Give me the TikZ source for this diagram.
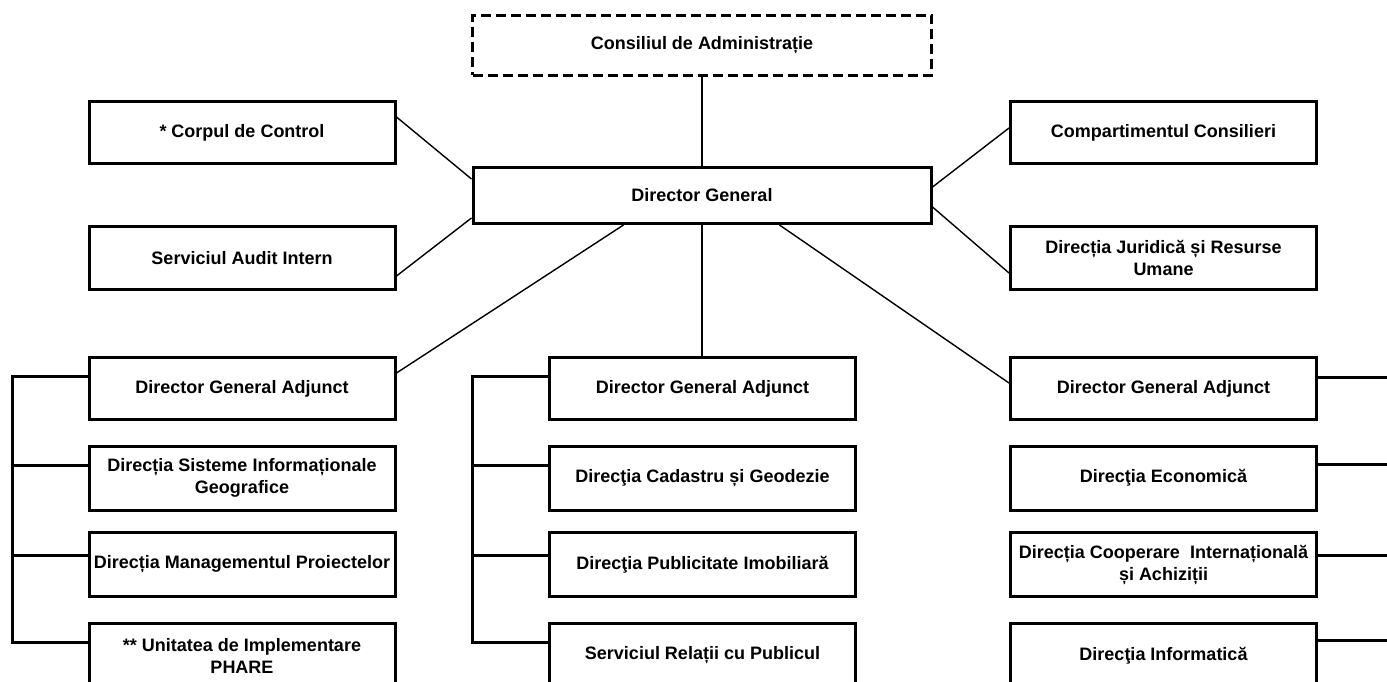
\documentclass[tikz,border=0pt]{standalone}
\usepackage{fontspec}
\setmainfont{Liberation Sans}
\usetikzlibrary{calc}
\begin{document}
\begin{tikzpicture}[x=1pt,y=-1pt,
  box/.style={draw,line width=3pt,inner sep=0pt,align=center,
    font=\fontsize{18}{22}\selectfont\bfseries,minimum width=306pt,minimum height=62pt},
  tall/.style={minimum height=64pt},
  conn/.style={line width=1.4pt},
  brk/.style={line width=3pt,line join=miter}]
\useasboundingbox (0,0) rectangle (1387,682);
\clip (0,0) rectangle (1387,682);
% top
\node[box,dash pattern=on 10pt off 5pt,minimum width=459pt,minimum height=60pt] (ca) at (702,45.5) {Consiliul de Administrație};
\node[box,minimum width=458pt,minimum height=56pt] (dg) at (702,195.5) {Director General};
\node[box] (corp) at (242,132.5) {* Corpul de Control};
\node[box,minimum height=63pt] (audit) at (242,258) {Serviciul Audit Intern};
\node[box] (comp) at (1163.5,132.5) {Compartimentul Consilieri};
\node[box,minimum height=63pt] (jur) at (1163.5,258) {Direcția Juridică și Resurse\\Umane};
% left column
\node[box] (l1) at (242,388.5) {Director General Adjunct};
\node[box,tall] (l2) at (242,478) {Direcția Sisteme Informaționale\\Geografice};
\node[box,tall] (l3) at (242,564.5) {Direcția Managementul Proiectelor};
\node[box,tall] (l4) at (242,655.5) {** Unitatea de Implementare\\PHARE};
% middle column
\node[box] (m1) at (702.5,388.5) {Director General Adjunct};
\node[box,tall] (m2) at (702.5,478) {Direcţia Cadastru și Geodezie};
\node[box,tall] (m3) at (702.5,564.5) {Direcţia Publicitate Imobiliară};
\node[box,tall] (m4) at (702.5,655.5) {Serviciul Relații cu Publicul};
% right column
\node[box] (r1) at (1163.5,388.5) {Director General Adjunct};
\node[box,tall] (r2) at (1163.5,478) {Direcţia Economică};
\node[box,tall] (r3) at (1163.5,564.5) {Direcția Cooperare~ Internațională\\și Achiziții};
\node[box,tall] (r4) at (1163.5,655.5) {Direcţia Informatică};
% connectors from top
\draw[conn] (ca.south) -- (ca.south |- dg.north);
\draw[conn] ($(dg.north west)+(0,13)$) -- ($(corp.north east)+(0,17)$);
\draw[conn] ($(dg.south west)+(0,-7)$) -- ($(audit.south east)+(0,-15)$);
\draw[conn] ($(dg.north east)+(0,21)$) -- ($(comp.north west)+(0,28)$);
\draw[conn] ($(dg.north east)+(0,41)$) -- ($(jur.south west)+(0,-18)$);
\draw[conn] ($(dg.south west)+(152,0)$) -- ($(l1.north east)+(0,17)$);
\draw[conn] (dg.south) -- (dg.south |- m1.north);
\draw[conn] ($(dg.south west)+(308,0)$) -- ($(r1.north west)+(0,27)$);
% left bracket
\coordinate (lbt) at (12,376);
\coordinate (lbb) at (12,642);
\draw[brk] ($(l1.north west)+(0,20)$) -- (lbt) -- (lbb) -- ($(l4.north west)+(0,20)$);
\draw[brk] ($(l2.north west)+(0,21)$) coordinate (l2c) -- (lbt |- l2c);
\draw[brk] ($(l3.north west)+(0,24)$) coordinate (l3c) -- (lbt |- l3c);
% middle bracket
\coordinate (mbt) at (472,376);
\coordinate (mbb) at (472,642);
\draw[brk] ($(m1.north west)+(0,20)$) -- (mbt) -- (mbb) -- ($(m4.north west)+(0,20)$);
\draw[brk] ($(m2.north west)+(0,21)$) coordinate (m2c) -- (mbt |- m2c);
\draw[brk] ($(m3.north west)+(0,24)$) coordinate (m3c) -- (mbt |- m3c);
% right bracket (runs off the edge)
\coordinate (rbx) at (1392,376);
\draw[brk] ($(r1.north east)+(0,21)$) coordinate (r1c) -- (rbx |- r1c);
\draw[brk] ($(r2.north east)+(0,20)$) coordinate (r2c) -- (rbx |- r2c);
\draw[brk] ($(r3.north east)+(0,24)$) coordinate (r3c) -- (rbx |- r3c);
\draw[brk] ($(r4.north east)+(0,18)$) coordinate (r4c) -- (rbx |- r4c);
\end{tikzpicture}
\end{document}
